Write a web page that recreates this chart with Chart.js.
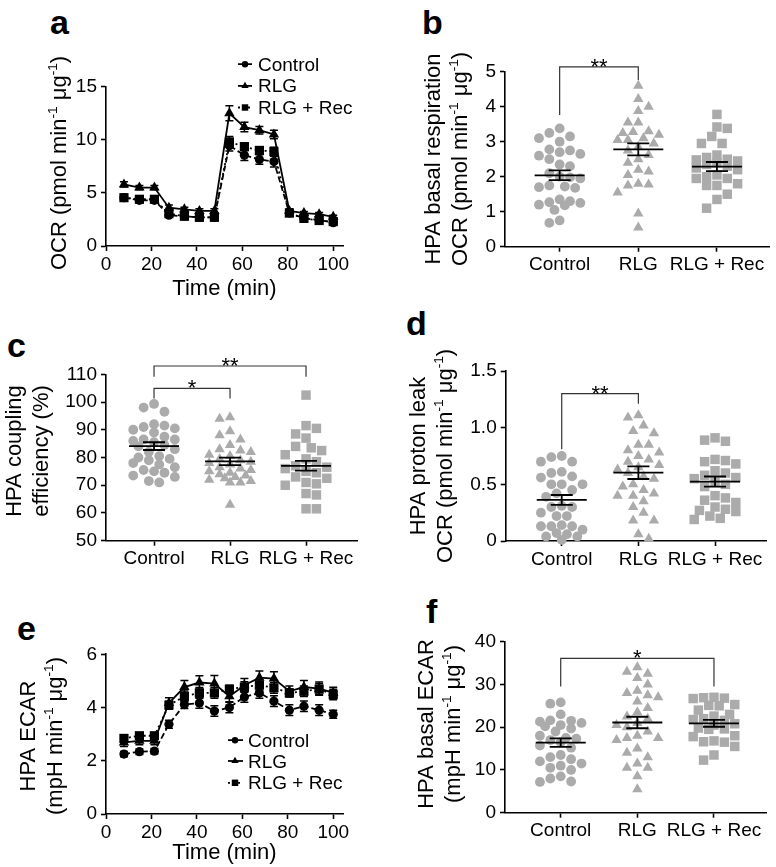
<!DOCTYPE html>
<html>
<head>
<meta charset="utf-8">
<title>HPA mitochondrial function</title>
<script src="https://cdn.jsdelivr.net/npm/chart.js@4.4.0/dist/chart.umd.min.js"></script>
<style>
  body { margin: 0; background: #fff; }
  #fig { position: relative; width: 776px; height: 867px; overflow: hidden; }
  .panel { position: absolute; }
  .tag { position: absolute; font: bold 34px "Liberation Sans", Arial, sans-serif; line-height: 1; color: #000; }
</style>
</head>
<body>
<div id="fig">
  <div class="tag" style="left:50px;top:5px">a</div>
  <div class="tag" style="left:422px;top:5px">b</div>
  <div class="tag" style="left:7px;top:328px">c</div>
  <div class="tag" style="left:406px;top:306px">d</div>
  <div class="tag" style="left:17px;top:611px">e</div>
  <div class="tag" style="left:426px;top:594px">f</div>
</div>
<script>
// ---- data ----
const groups = ['Control', 'RLG', 'RLG + Rec'];
const timeTicks = [0, 20, 40, 60, 80, 100];
const timePoints = [7.9, 14.7, 21.3, 27.7, 34.5, 41.1, 47.7, 54.3, 60.9, 67.5, 73.9, 80.7, 87.1, 93.8, 100.0];

// a: OCR time course
const ocrControl = [4.55, 4.3, 4.3, 2.9, 2.8, 2.7, 2.7, 9.45, 8.55, 8.15, 7.95, 3.1, 2.6, 2.45, 2.2];
const ocrRLG = [5.8, 5.5, 5.5, 3.6, 3.45, 3.3, 3.3, 12.5, 11.2, 10.9, 10.5, 3.3, 3.1, 3.0, 2.75];
const ocrRec = [4.55, 4.4, 4.4, 3.05, 2.8, 2.7, 2.7, 9.8, 9.35, 9.0, 8.9, 3.1, 2.6, 2.4, 2.3];
const ocrControlErr = [0.2, 0.15, 0.15, 0.2, 0.15, 0.15, 0.15, 0.5, 0.5, 0.45, 0.5, 0.15, 0.15, 0.15, 0.15];
const ocrRLGErr = [0.25, 0.2, 0.2, 0.25, 0.2, 0.2, 0.2, 0.7, 0.45, 0.35, 0.4, 0.2, 0.15, 0.15, 0.15];
const ocrRecErr = [0.2, 0.15, 0.15, 0.15, 0.15, 0.15, 0.15, 0.5, 0.35, 0.35, 0.4, 0.15, 0.15, 0.15, 0.15];
const ocrTicks = [0, 5, 10, 15];

// b: basal respiration
const basalControl = [3.38, 3.25, 3.15, 3.1, 3.0, 2.78, 2.75, 2.7, 2.65, 2.6, 2.5, 2.35, 2.3, 2.1, 2.0, 1.98, 1.95, 1.75, 1.72, 1.7, 1.68, 1.35, 1.3, 1.27, 1.25, 1.2, 1.18, 1.05, 0.75, 0.68];
const basalRLG = [4.6, 4.22, 4.0, 3.88, 3.55, 3.55, 3.3, 3.28, 3.25, 3.2, 3.1, 3.05, 3.05, 2.95, 2.85, 2.75, 2.62, 2.5, 2.4, 2.2, 2.15, 2.05, 1.8, 1.78, 1.75, 1.55, 0.95, 0.55];
const basalRec = [3.78, 3.42, 3.38, 3.15, 2.95, 2.95, 2.62, 2.55, 2.5, 2.48, 2.45, 2.4, 2.35, 2.3, 2.25, 2.2, 2.05, 2.0, 1.95, 1.95, 1.8, 1.75, 1.75, 1.5, 1.35, 1.1];
const basalMean = [2.04, 2.78, 2.29];
const basalSem = [0.14, 0.17, 0.13];
const basalTicks = [0, 1, 2, 3, 4, 5];

// c: coupling efficiency
const coupControl = [99.3, 98, 96.5, 92, 91.5, 91, 90.5, 90, 89, 87.5, 86.5, 86.5, 86, 85.5, 84.5, 84, 83, 82, 80.5, 80, 79.5, 79, 78, 77.5, 76.5, 75.5, 75, 74.5, 73.5, 73, 71.5, 71];
const coupRLG = [94.5, 94, 89.5, 88, 86.5, 84.5, 83, 82.5, 82, 81, 80.5, 79.5, 79, 78.5, 78, 77.5, 76.5, 76, 75.5, 75, 74.5, 74, 73.5, 73, 72.5, 72, 71.5, 71, 71, 63];
const coupRec = [102.5, 91.5, 90.5, 88.5, 87, 84, 83.5, 82.5, 81, 79.5, 78.5, 77, 76.5, 76, 75, 74.5, 73, 72.5, 71, 70.5, 70, 67, 66.5, 61.5, 61.5];
const coupMean = [84.1, 78.6, 77.0];
const coupSem = [1.4, 1.35, 1.75];
const coupTicks = [50, 60, 70, 80, 90, 100, 110];

// d: proton leak
const leakControl = [0.75, 0.74, 0.70, 0.70, 0.61, 0.60, 0.57, 0.56, 0.50, 0.50, 0.50, 0.45, 0.42, 0.39, 0.31, 0.30, 0.30, 0.25, 0.22, 0.22, 0.14, 0.13, 0.13, 0.13, 0.10, 0.07, 0.06, 0.04, 0.04, 0.01];
const leakRLG = [1.11, 1.09, 1.02, 0.97, 0.95, 0.85, 0.85, 0.80, 0.78, 0.75, 0.72, 0.70, 0.67, 0.65, 0.63, 0.60, 0.57, 0.55, 0.50, 0.48, 0.45, 0.42, 0.40, 0.40, 0.35, 0.30, 0.25, 0.18, 0.18, 0.06, 0.02];
const leakRec = [0.91, 0.89, 0.88, 0.72, 0.71, 0.70, 0.68, 0.62, 0.60, 0.58, 0.56, 0.55, 0.52, 0.50, 0.48, 0.40, 0.38, 0.36, 0.34, 0.30, 0.28, 0.27, 0.26, 0.22, 0.20, 0.19];
const leakMean = [0.362, 0.603, 0.524];
const leakSem = [0.044, 0.056, 0.045];
const leakTicks = [0, 0.5, 1.0, 1.5];
const leakTickLabels = ['0', '0.5', '1.0', '1.5'];

// e: ECAR time course
const ecarCtlCourse = [2.25, 2.34, 2.36, 3.37, 4.11, 4.17, 3.87, 4.0, 4.4, 4.55, 4.24, 3.9, 4.05, 3.9, 3.75];
const ecarRLGCourse = [2.69, 2.75, 2.75, 4.17, 4.77, 4.94, 4.9, 4.42, 4.84, 5.12, 5.09, 4.61, 4.77, 4.71, 4.56];
const ecarRecCourse = [2.84, 2.94, 2.94, 4.09, 4.42, 4.55, 4.55, 4.69, 4.77, 4.84, 4.74, 4.55, 4.61, 4.69, 4.49];
const ecarCtlErr = [0.1, 0.1, 0.1, 0.15, 0.15, 0.2, 0.2, 0.2, 0.2, 0.2, 0.2, 0.2, 0.2, 0.2, 0.15];
const ecarRLGErr = [0.15, 0.15, 0.15, 0.2, 0.25, 0.25, 0.3, 0.2, 0.25, 0.25, 0.25, 0.2, 0.25, 0.25, 0.2];
const ecarRecErr = [0.1, 0.1, 0.1, 0.15, 0.2, 0.2, 0.2, 0.15, 0.2, 0.2, 0.2, 0.15, 0.2, 0.2, 0.2];
const ecarCourseTicks = [0, 2, 4, 6];

// f: basal ECAR
const ecarControl = [25.8, 25.5, 23, 21.6, 21.5, 21.3, 21, 20.5, 20.2, 19.7, 19, 18, 17.5, 17.3, 17, 16.5, 15.7, 15.2, 13.5, 13, 12.5, 12, 11.5, 11, 10.5, 10, 8.5, 8.0, 7.3, 7.2];
const ecarRLG = [34, 33, 32.5, 31.5, 30, 28.5, 28, 27.5, 27, 26, 24.5, 23.5, 22.5, 22, 21, 20.5, 20, 19, 18, 17.5, 17.5, 17, 15, 14, 13, 11.5, 10.5, 10.5, 8.5, 5.5];
const ecarRec = [27.0, 26.9, 26.8, 26.7, 25.3, 25.1, 25.0, 24.0, 23.0, 22.6, 22.0, 21.8, 21.6, 20.8, 20.5, 19.8, 19.6, 19.5, 18.0, 17.8, 16.8, 16.6, 16.5, 15.5, 13.5, 12.3];
const ecarMean = [16.4, 21.1, 20.9];
const ecarSem = [1.0, 1.35, 0.8];
const ecarTicks = [0, 10, 20, 30, 40];

// significance brackets: groups joined, bracket top, leg ends, label
const basalSig = [{ from: 0, to: 1, top: 5.14, legs: [3.76, 4.76], label: '**' }];
const coupSig = [
    { from: 0, to: 1, top: 104.9, legs: [101.3, 101.3], label: '*' },
    { from: 0, to: 2, top: 113.0, legs: [109.1, 109.1], label: '**' }
];
const leakSig = [{ from: 0, to: 1, top: 1.30, legs: [0.81, 1.21], label: '**' }];
const ecarSig = [{ from: 0, to: 2, top: 36.1, legs: [29.5, 29.5], label: '*' }];

// ---- look ----
const FONT = '"Liberation Sans", Arial, Helvetica, sans-serif';
const GREY = '#ababab';
const X_BOX_H = 35;
Chart.defaults.font.family = FONT;
Chart.defaults.color = '#000';

const OCR_UNIT = [['OCR (pmol min'], ['-1', 1], [' \u03bcg'], ['-1', 1], [')']];
const ECAR_UNIT = [['(mpH min'], ['-1', 1], [' \u03bcg'], ['-1', 1], [')']];

// text with superscripts
function richWidth(ctx, segs, size) {
    let w = 0;
    segs.forEach(([t, sup]) => {
        ctx.font = (sup ? size * 0.62 : size) + 'px ' + FONT;
        w += ctx.measureText(t).width;
    });
    return w;
}

function drawRich(ctx, segs, x, y, size) {
    segs.forEach(([t, sup]) => {
        ctx.font = (sup ? size * 0.62 : size) + 'px ' + FONT;
        ctx.fillText(t, x, sup ? y - size * 0.4 : y);
        x += ctx.measureText(t).width;
    });
}

function drawMarker(ctx, style, x, y, r) {
    ctx.beginPath();
    if (style === 'circle') {
        ctx.arc(x, y, r, 0, Math.PI * 2);
    } else if (style === 'triangle') {
        ctx.moveTo(x, y - r);
        ctx.lineTo(x + r * 0.866, y + r * 0.5);
        ctx.lineTo(x - r * 0.866, y + r * 0.5);
        ctx.closePath();
    } else {
        ctx.rect(x - r * 0.707, y - r * 0.707, r * 1.414, r * 1.414);
    }
    ctx.fill();
}

// titles, legends, error bars, means and brackets
const figText = {
    id: 'figText',
    afterDraw(chart, args, o) {
        const ctx = chart.ctx;
        const [ox, oy] = o.box;
        const xs = chart.scales.x, ys = chart.scales.y;
        ctx.save();
        ctx.fillStyle = '#000';
        ctx.strokeStyle = '#000';
        ctx.textAlign = 'left';
        ctx.textBaseline = 'alphabetic';

        // error bars on time courses
        (o.errorBars ? chart.data.datasets : []).forEach((ds, di) => {
            const meta = chart.getDatasetMeta(di);
            ctx.lineWidth = 1.5;
            ctx.setLineDash([]);
            ds.data.forEach((p, j) => {
                const x = meta.data[j].x;
                const y1 = ys.getPixelForValue(p.y + ds.errors[j]);
                const y2 = ys.getPixelForValue(p.y - ds.errors[j]);
                ctx.beginPath();
                ctx.moveTo(x, y1); ctx.lineTo(x, y2);
                ctx.moveTo(x - 4, y1); ctx.lineTo(x + 4, y1);
                ctx.moveTo(x - 4, y2); ctx.lineTo(x + 4, y2);
                ctx.stroke();
            });
        });

        // mean with SEM
        if (o.means) {
            ctx.lineWidth = 1.8;
            o.means.forEach((m, i) => {
                const cx = xs.getPixelForValue(i);
                const ym = ys.getPixelForValue(m);
                const yt = ys.getPixelForValue(m + o.sems[i]);
                const yb = ys.getPixelForValue(m - o.sems[i]);
                ctx.beginPath();
                ctx.moveTo(cx - 25, ym); ctx.lineTo(cx + 25, ym);
                ctx.moveTo(cx, yt); ctx.lineTo(cx, yb);
                ctx.moveTo(cx - 11, yt); ctx.lineTo(cx + 11, yt);
                ctx.moveTo(cx - 11, yb); ctx.lineTo(cx + 11, yb);
                ctx.stroke();
            });
        }

        // brackets
        (o.brackets || []).forEach(b => {
            const x1 = xs.getPixelForValue(b.from), x2 = xs.getPixelForValue(b.to);
            const yt = ys.getPixelForValue(b.top);
            ctx.strokeStyle = '#333';
            ctx.lineWidth = 1.2;
            ctx.beginPath();
            ctx.moveTo(x1, ys.getPixelForValue(b.legs[0]));
            ctx.lineTo(x1, yt); ctx.lineTo(x2, yt);
            ctx.lineTo(x2, ys.getPixelForValue(b.legs[1]));
            ctx.stroke();
            ctx.font = '22px ' + FONT;
            ctx.textAlign = 'center';
            ctx.fillText(b.label, (x1 + x2) / 2, yt + 7);
            ctx.textAlign = 'left';
        });

        // legend for time courses
        if (o.legend) {
            const L = o.legend;
            L.items.forEach((it, i) => {
                const base = L.baseline[i] - oy;
                const ym = base - 6.5;
                ctx.strokeStyle = '#000';
                ctx.lineWidth = 1.8;
                ctx.setLineDash(it.dash);
                ctx.beginPath();
                ctx.moveTo(L.line[0] - ox, ym); ctx.lineTo(L.line[1] - ox, ym);
                ctx.stroke();
                ctx.setLineDash([]);
                drawMarker(ctx, it.style, L.marker - ox, ym, it.r);
                ctx.font = '19px ' + FONT;
                ctx.fillText(it.label, L.textX - ox, base);
            });
        }

        // rotated y title, one or two lines
        const t = o.yTitle;
        t.lines.forEach((segs, i) => {
            const w = richWidth(ctx, segs, 22);
            ctx.save();
            ctx.translate(t.baseX[i] - ox, t.cy - oy);
            ctx.rotate(-Math.PI / 2);
            drawRich(ctx, segs, -w / 2, 0, 22);
            ctx.restore();
        });

        if (o.xTitle) {
            ctx.font = '22px ' + FONT;
            ctx.textAlign = 'center';
            ctx.fillText(o.xTitle.text, o.xTitle.cx - ox, o.xTitle.base - oy);
        }
        ctx.restore();
    }
};

// canvas inside an absolutely placed box
function mountCanvas(box) {
    const wrap = document.createElement('div');
    wrap.className = 'panel';
    wrap.style.left = box[0] + 'px';
    wrap.style.top = box[1] + 'px';
    wrap.style.width = box[2] + 'px';
    wrap.style.height = box[3] + 'px';
    const cv = document.createElement('canvas');
    wrap.appendChild(cv);
    document.getElementById('fig').appendChild(wrap);
    return cv;
}

// axes with fixed box sizes so the plot area lands where the figure has it
function axes(lay, xTicks, xLabels, yTicks, yLabels) {
    const base = {
        type: 'linear',
        border: { display: true, color: '#000', width: 1.6 },
        grid: { drawOnChartArea: false, drawTicks: true, tickLength: 5, tickWidth: 1.6, tickColor: '#000' }
    };
    const tickFont = { family: FONT, size: 19 };
    return {
        x: Object.assign({}, base, {
            min: lay.x[0], max: lay.x[1],
            afterBuildTicks: s => { s.ticks = xTicks.map(v => ({ value: v })); },
            afterFit: s => { s.height = X_BOX_H; },
            ticks: { font: tickFont, color: '#000', padding: 2, autoSkip: false, maxRotation: 0,
                     callback: (v, i) => xLabels[i] }
        }),
        y: Object.assign({}, base, {
            min: lay.y[0], max: lay.y[1],
            afterBuildTicks: s => { s.ticks = yTicks.map(v => ({ value: v })); },
            afterFit: s => { s.width = lay.plot[0] - lay.box[0]; },
            ticks: { font: tickFont, color: '#000', padding: 4, callback: (v, i) => yLabels[i] }
        })
    };
}

function padding(lay) {
    const [bx, by, bw, bh] = lay.box;
    const [l, t, r, b] = lay.plot;
    return { left: 0, top: t - by, right: bx + bw - r, bottom: by + bh - b - X_BOX_H };
}

// spread one group's points sideways, inside a fixed half width, least overlap wins
function swarm(values, pxX, pxY, diam, maxOff) {
    const order = values.map((v, i) => i).sort((a, b) => values[b] - values[a]);
    const step = diam / 2;
    const cands = [0];
    for (let k = 1; k * step <= maxOff + 0.01; k++) cands.push(k * step, -k * step);
    const placed = [];
    const offs = values.map(() => 0);
    order.forEach((i, n) => {
        const py = values[i] * pxY;
        let best = 0, bestGap = -1;
        for (const c0 of cands) {
            const c = n % 2 ? -c0 : c0;
            let gap = Infinity;
            placed.forEach(p => { gap = Math.min(gap, Math.hypot(p.x - c, p.y - py)); });
            if (gap >= diam) { best = c; break; }
            if (gap > bestGap + 0.5) { bestGap = gap; best = c; }
        }
        placed.push({ x: best, y: py });
        offs[i] = best / pxX;
    });
    return offs;
}

// time course panel (a, e)
function createTimeCourse(lay, series, yTicks, title, legend) {
    const styles = [
        { style: 'circle', r: 4.6, dash: [6, 3] },
        { style: 'triangle', r: 6, dash: [] },
        { style: 'rect', r: 6.5, dash: [2, 3] }
    ];
    const datasets = series.map((s, i) => ({
        label: groups[i],
        data: timePoints.map((t, j) => ({ x: t, y: s.values[j] })),
        errors: s.errors,
        borderColor: '#000',
        borderWidth: 1.8,
        borderDash: styles[i].dash,
        pointStyle: styles[i].style,
        pointRadius: styles[i].r,
        pointBackgroundColor: '#000',
        pointBorderWidth: 0,
        tension: 0,
        clip: false
    }));
    new Chart(mountCanvas(lay.box), {
        type: 'line',
        data: { datasets },
        options: {
            responsive: true,
            maintainAspectRatio: false,
            animation: false,
            events: [],
            layout: { padding: padding(lay) },
            scales: axes(lay, timeTicks, timeTicks.map(String), yTicks, yTicks.map(String)),
            plugins: {
                legend: { display: false },
                tooltip: { enabled: false },
                figText: {
                    box: lay.box,
                    errorBars: true,
                    yTitle: title,
                    xTitle: { text: 'Time (min)', cx: (lay.plot[0] + lay.plot[2]) / 2, base: lay.xTitleBase },
                    legend: {
                        line: legend.line, marker: legend.marker, textX: legend.textX, baseline: legend.baseline,
                        items: styles.map((s, i) => ({ label: groups[i], style: s.style, dash: s.dash, r: s.r * 0.7 }))
                    }
                }
            }
        },
        plugins: [figText]
    });
}

// scatter dot panel with mean and SEM (b, c, d, f)
function createDotPlot(lay, sets, means, sems, sig, yTicks, yLabels, title) {
    const pxX = (lay.plot[2] - lay.plot[0]) / (lay.x[1] - lay.x[0]);
    const pxY = (lay.plot[3] - lay.plot[1]) / (lay.y[1] - lay.y[0]);
    const shapes = [['circle', 4.9], ['triangle', 6], ['rect', 6.7]];
    const datasets = sets.map((vals, g) => {
        const offs = swarm(vals, pxX, pxY, 10.4, 21);
        return {
            label: groups[g],
            data: vals.map((v, i) => ({ x: g + offs[i], y: v })),
            pointStyle: shapes[g][0],
            pointRadius: shapes[g][1],
            pointBackgroundColor: GREY,
            pointBorderWidth: 0,
            showLine: false,
            clip: false
        };
    });
    new Chart(mountCanvas(lay.box), {
        type: 'scatter',
        data: { datasets },
        options: {
            responsive: true,
            maintainAspectRatio: false,
            animation: false,
            events: [],
            layout: { padding: padding(lay) },
            scales: axes(lay, [0, 1, 2], groups, yTicks, yLabels),
            plugins: {
                legend: { display: false },
                tooltip: { enabled: false },
                figText: { box: lay.box, means, sems, brackets: sig, yTitle: title }
            }
        },
        plugins: [figText]
    });
}

document.addEventListener('DOMContentLoaded', function() {
    // a
    createTimeCourse(
        { box: [0, 0, 388, 300], plot: [106, 86.7, 343, 246], x: [0, 104.3], y: [0, 15], xTitleBase: 295 },
        [{ values: ocrControl, errors: ocrControlErr }, { values: ocrRLG, errors: ocrRLGErr }, { values: ocrRec, errors: ocrRecErr }],
        ocrTicks,
        { lines: [OCR_UNIT], baseX: [66], cy: 163 },
        { line: [238, 252], marker: 245, textX: 258, baseline: [70.7, 92.4, 114] }
    );

    // b
    createDotPlot(
        { box: [388, 0, 388, 290], plot: [505, 71.7, 771, 246.7], x: [-0.695, 2.666], y: [0, 5] },
        [basalControl, basalRLG, basalRec], basalMean, basalSem, basalSig,
        basalTicks, basalTicks.map(String),
        { lines: [[['HPA basal respiration']], OCR_UNIT], baseX: [440, 467], cy: 159 }
    );

    // c
    createDotPlot(
        { box: [0, 290, 388, 290], plot: [106, 374.3, 357.7, 540.7], x: [-0.632, 2.68], y: [50, 110] },
        [coupControl, coupRLG, coupRec], coupMean, coupSem, coupSig,
        coupTicks, coupTicks.map(String),
        { lines: [[['HPA coupling']], [['efficiency (%)']]], baseX: [21, 48], cy: 451 }
    );

    // d
    createDotPlot(
        { box: [388, 290, 388, 290], plot: [505.7, 371, 766, 541], x: [-0.731, 2.665], y: [0, 1.5] },
        [leakControl, leakRLG, leakRec], leakMean, leakSem, leakSig,
        leakTicks, leakTickLabels,
        { lines: [[['HPA proton leak']], OCR_UNIT], baseX: [425, 452], cy: 456 }
    );

    // e
    createTimeCourse(
        { box: [0, 580, 388, 287], plot: [106, 654.3, 343, 814], x: [0, 104.3], y: [0, 6], xTitleBase: 859 },
        [{ values: ecarCtlCourse, errors: ecarCtlErr }, { values: ecarRLGCourse, errors: ecarRLGErr }, { values: ecarRecCourse, errors: ecarRecErr }],
        ecarCourseTicks,
        { lines: [[['HPA ECAR']], ECAR_UNIT], baseX: [35, 62], cy: 736 },
        { line: [228, 243], marker: 235, textX: 248, baseline: [746.7, 767.5, 789.3] }
    );

    // f
    createDotPlot(
        { box: [388, 580, 388, 287], plot: [505, 641.7, 766.7, 812.7], x: [-0.727, 2.688], y: [0, 40] },
        [ecarControl, ecarRLG, ecarRec], ecarMean, ecarSem, ecarSig,
        ecarTicks, ecarTicks.map(String),
        { lines: [[['HPA basal ECAR']], ECAR_UNIT], baseX: [433, 460], cy: 724 }
    );
});
</script>
</body>
</html>
